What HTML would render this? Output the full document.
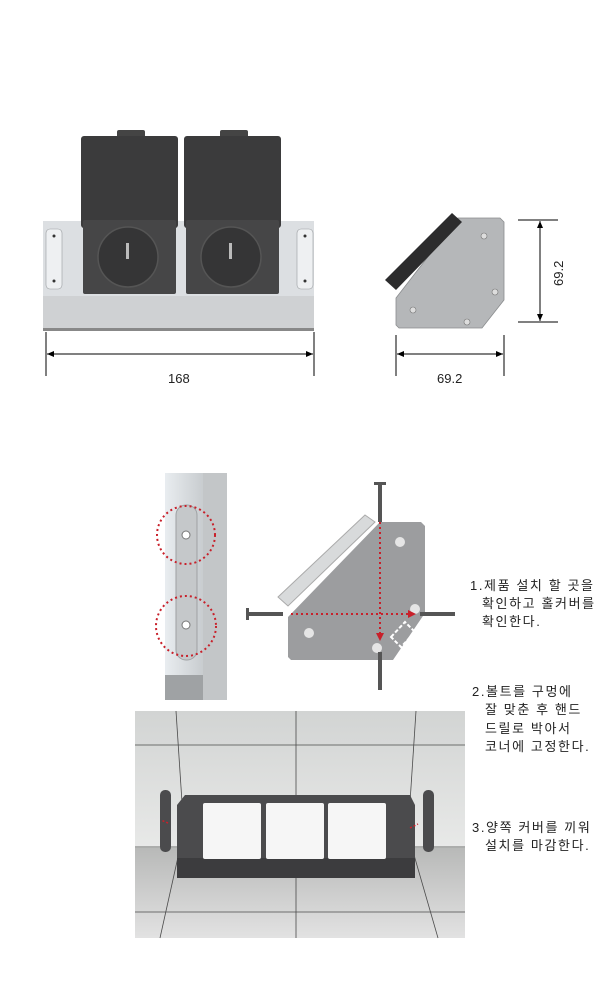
<!DOCTYPE html>
<html><head><meta charset="utf-8"><style>
html,body{margin:0;padding:0;background:#fff;}
svg{display:block;}
text{font-family:"Liberation Sans","Noto Sans CJK KR",sans-serif;fill:#222;}
</style></head><body>
<svg width="600" height="1000" viewBox="0 0 600 1000" xmlns="http://www.w3.org/2000/svg">
<defs>
<linearGradient id="wall" x1="0" y1="0" x2="0" y2="1"><stop offset="0" stop-color="#d2d4d3"/><stop offset="1" stop-color="#e8e9e8"/></linearGradient>
<linearGradient id="floor" x1="0" y1="0" x2="0" y2="1"><stop offset="0" stop-color="#b8b9b8"/><stop offset="1" stop-color="#e2e2e2"/></linearGradient>
<linearGradient id="lp" x1="0" y1="0" x2="1" y2="0"><stop offset="0" stop-color="#e9edf0"/><stop offset="0.6" stop-color="#c9cdd0"/><stop offset="1" stop-color="#a9adb0"/></linearGradient>
</defs>
<!-- front view -->
<rect x="43" y="221" width="271" height="110" fill="#dcdfe2"/>
<rect x="43" y="296" width="271" height="35" fill="#cfd1d3"/>
<rect x="43" y="328" width="271" height="3" fill="#888"/>
<rect x="46" y="229" width="16" height="60" rx="4" fill="#eef0f2" stroke="#9a9da0" stroke-width="0.6"/>
<rect x="297" y="229" width="16" height="60" rx="4" fill="#eef0f2" stroke="#9a9da0" stroke-width="0.6"/>
<circle cx="54" cy="236" r="1.5" fill="#333"/><circle cx="54" cy="281" r="1.5" fill="#333"/>
<circle cx="305" cy="236" r="1.5" fill="#333"/><circle cx="305" cy="281" r="1.5" fill="#333"/>
<g>
<rect x="117" y="130" width="28" height="8" rx="2" fill="#444"/>
<rect x="81" y="136" width="97" height="92" rx="3" fill="#3b3b3c"/>
<rect x="83" y="220" width="93" height="74" rx="2" fill="#464647"/>
<circle cx="128" cy="257" r="30" fill="#353536" stroke="#555" stroke-width="1.5"/>
<rect x="126" y="243" width="3" height="16" fill="#bbb"/>
</g>
<g transform="translate(103,0)">
<rect x="117" y="130" width="28" height="8" rx="2" fill="#444"/>
<rect x="81" y="136" width="97" height="92" rx="3" fill="#3b3b3c"/>
<rect x="83" y="220" width="93" height="74" rx="2" fill="#464647"/>
<circle cx="128" cy="257" r="30" fill="#353536" stroke="#555" stroke-width="1.5"/>
<rect x="126" y="243" width="3" height="16" fill="#bbb"/>
</g>
<line x1="46" y1="332" x2="46" y2="376" stroke="#000"/>
<line x1="314" y1="332" x2="314" y2="376" stroke="#000"/>
<line x1="47" y1="354" x2="313" y2="354" stroke="#000"/>
<path d="M47 354l7-3v6zM313 354l-7-3v6z" fill="#000"/>
<text x="168" y="383" font-size="13">168</text>
<!-- side view -->
<polygon points="458,218 500,218 504,222 504,300 482,328 399,328 396,325 396,298" fill="#b5b7b9" stroke="#8a8c8e" stroke-width="0.8"/>
<polygon points="385,280 452,213 462,222 396,290" fill="#2c2c2d"/>
<circle cx="484" cy="236" r="3" fill="#ddd" stroke="#777" stroke-width="0.6"/>
<circle cx="413" cy="310" r="3" fill="#ddd" stroke="#777" stroke-width="0.6"/>
<circle cx="495" cy="292" r="3" fill="#ddd" stroke="#777" stroke-width="0.6"/>
<circle cx="467" cy="322" r="3" fill="#ddd" stroke="#777" stroke-width="0.6"/>
<line x1="518" y1="220" x2="558" y2="220" stroke="#000"/>
<line x1="518" y1="322" x2="558" y2="322" stroke="#000"/>
<line x1="540" y1="221" x2="540" y2="321" stroke="#000"/>
<path d="M540 221l-3 7h6zM540 321l-3-7h6z" fill="#000"/>
<text x="0" y="0" font-size="13" transform="translate(563,286) rotate(-90)">69.2</text>
<line x1="396" y1="335" x2="396" y2="376" stroke="#000"/>
<line x1="504" y1="335" x2="504" y2="376" stroke="#000"/>
<line x1="397" y1="354" x2="503" y2="354" stroke="#000"/>
<path d="M397 354l7-3v6zM503 354l-7-3v6z" fill="#000"/>
<text x="437" y="383" font-size="13">69.2</text>
<!-- left photo -->
<rect x="165" y="473" width="62" height="227" fill="url(#lp)"/>
<rect x="203" y="473" width="24" height="227" fill="#c3c6c8"/>
<rect x="176" y="505" width="21" height="155" rx="10" fill="#c5c8ca" stroke="#9ea1a3"/>
<circle cx="186" cy="535" r="4" fill="#fff" stroke="#777"/>
<circle cx="186" cy="625" r="4" fill="#fff" stroke="#777"/>
<rect x="165" y="675" width="38" height="25" fill="#9fa2a4"/>
<circle cx="186" cy="535" r="29" fill="none" stroke="#c8202a" stroke-width="2" stroke-dasharray="2 3"/>
<circle cx="186" cy="626" r="30" fill="none" stroke="#c8202a" stroke-width="2" stroke-dasharray="2 3"/>
<!-- diamond diagram -->
<polygon points="380,522 421,522 425,526 425,613 393,660 291,660 288,657 288,617 380,522" fill="#9c9d9f"/>
<polygon points="278,597 365,515 375,522 288,606" fill="#d8dadb" stroke="#aaa"/>
<circle cx="400" cy="542" r="5" fill="#e5e5e5"/><circle cx="309" cy="633" r="5" fill="#e5e5e5"/>
<circle cx="415" cy="609" r="5" fill="#e5e5e5"/><circle cx="377" cy="648" r="5" fill="#e5e5e5"/>
<polygon points="391,637 405,622 415,632 401,647" fill="none" stroke="#fff" stroke-width="2" stroke-dasharray="4 2"/>
<rect x="378" y="485" width="4" height="37" fill="#555"/><rect x="374" y="482" width="12" height="3" fill="#555"/>
<rect x="378" y="652" width="4" height="38" fill="#555"/>
<rect x="246" y="612" width="37" height="4" fill="#555"/><rect x="246" y="608" width="3" height="12" fill="#555"/>
<rect x="420" y="612" width="35" height="4" fill="#555"/>
<line x1="380" y1="522" x2="380" y2="636" stroke="#c8202a" stroke-width="2" stroke-dasharray="2 3"/>
<line x1="291" y1="614" x2="408" y2="614" stroke="#c8202a" stroke-width="2" stroke-dasharray="2 3"/>
<path d="M376 633h8l-4 8zM408 610v8l8-4z" fill="#c8202a"/>
<!-- room photo -->
<rect x="135" y="711" width="330" height="137" fill="url(#wall)"/>
<rect x="135" y="848" width="330" height="90" fill="url(#floor)"/>
<g stroke="#4a4a4a" stroke-width="0.8" fill="none">
<line x1="135" y1="745" x2="465" y2="745"/><line x1="135" y1="847" x2="465" y2="847"/>
<line x1="176" y1="711" x2="185" y2="848"/><line x1="296" y1="711" x2="296" y2="848"/><line x1="416" y1="711" x2="407" y2="848"/>
<line x1="135" y1="912" x2="465" y2="912"/><line x1="180" y1="848" x2="160" y2="938"/><line x1="296" y1="848" x2="296" y2="938"/><line x1="412" y1="848" x2="438" y2="938"/>
</g>
<polygon points="185,795 410,795 415,805 415,878 177,878 177,805" fill="#4b4b4d"/>
<rect x="177" y="858" width="238" height="20" fill="#3c3c3e"/>
<rect x="203" y="803" width="58" height="56" rx="2" fill="#f6f6f6"/>
<rect x="266" y="803" width="58" height="56" rx="2" fill="#f6f6f6"/>
<rect x="328" y="803" width="58" height="56" rx="2" fill="#f6f6f6"/>
<rect x="160" y="790" width="11" height="62" rx="5" fill="#4b4b4d"/>
<rect x="423" y="790" width="11" height="62" rx="5" fill="#4b4b4d"/>
<path d="M168 823l-7-3 M410 828l8-4" stroke="#c8202a" stroke-width="1.5" stroke-dasharray="2 2"/>
<!-- text -->
<g font-size="13" letter-spacing="1.6">
<text x="470" y="590">1.제품 설치 할 곳을</text>
<text x="482" y="608">확인하고 홀커버를</text>
<text x="482" y="626">확인한다.</text>
<text x="472" y="696">2.볼트를 구멍에</text>
<text x="485" y="714">잘 맞춘 후 핸드</text>
<text x="485" y="733">드릴로 박아서</text>
<text x="485" y="751">코너에 고정한다.</text>
<text x="472" y="832">3.양쪽 커버를 끼워</text>
<text x="485" y="850">설치를 마감한다.</text>
</g>
</svg>
</body></html>
